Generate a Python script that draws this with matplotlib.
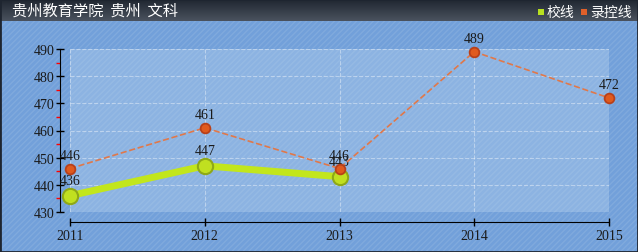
import numpy as np
import matplotlib.pyplot as plt
from matplotlib.patches import Rectangle

plt.rcParams['font.family'] = ['Noto Sans CJK SC', 'DejaVu Sans']

'''
Data
'''
title = '贵州教育学院 贵州 文科'
years = [2011, 2012, 2013, 2014, 2015]
school_years = [2011, 2012, 2013]
school_line = [436, 447, 443]
control_line = [446, 461, 446, 489, 472]
y_ticks = [430, 440, 450, 460, 470, 480, 490]
series_names = ['校线', '录控线']

W, H = 638, 253
fig = plt.figure(figsize=(W / 100, H / 100), dpi=100)
fig.patch.set_facecolor('#72a0da')

# hatched blue background
bg = Rectangle((0, 0), 1, 1, transform=fig.transFigure, facecolor='none',
               edgecolor='#80aadd', hatch='//////', linewidth=0, zorder=-5)
fig.add_artist(bg)

# title bar gradient
tax = fig.add_axes([0, (H - 22) / H, 1, 22 / H])
grad = np.linspace(0, 1, 50).reshape(-1, 1)
tax.imshow(grad, aspect='auto', cmap=plt.matplotlib.colors.LinearSegmentedColormap.from_list(
    'bar', ['#1f2630', '#4a525e']), extent=[0, 1, 0, 1])
tax.axis('off')
fig.text(12 / W, (H - 11) / H, title.replace(' ', '  '), color='white', fontsize=11,
         va='center', ha='left')

# legend
leg_colors = ['#b8e020', '#e0602a']
leg_x = [538, 581]
for name, c, lx in zip(series_names, leg_colors, leg_x):
    fig.add_artist(Rectangle((lx / W, (H - 16) / H), 6 / W, 6 / H, transform=fig.transFigure,
                             facecolor=c, edgecolor='none'))
    fig.text((lx + 9) / W, (H - 12.5) / H, name, color='white', fontsize=10, va='center', ha='left')

# frame border
fig.add_artist(Rectangle((0, 0), 1, 1, transform=fig.transFigure, facecolor='none',
                         edgecolor='#1e2530', linewidth=2, zorder=10))

ax = fig.add_axes([70 / W, (H - 213) / H, 539 / W, 163 / H])
ax.set_facecolor((0.75, 0.85, 0.95, 0.35))
ax.set_xlim(2011, 2015)
ax.set_ylim(430, 490)
for s in ['top', 'right']:
    ax.spines[s].set_visible(False)
ax.spines['left'].set_position(('outward', 7.2))
ax.spines['bottom'].set_position(('outward', 7.2))
ax.spines['left'].set_bounds(430, 490)
ax.set_xticks(years)
ax.set_yticks(y_ticks)
ax.set_yticks([435, 445, 455, 465, 475, 485], minor=True)
ax.tick_params(axis='both', which='major', direction='inout', length=6, width=1,
               colors='black', labelcolor='#1a1a1a')
ax.tick_params(axis='y', which='minor', direction='out', length=3, width=1, color='red')
ax.tick_params(axis='x', pad=2)
ax.tick_params(axis='y', pad=1)
for lab in ax.get_xticklabels() + ax.get_yticklabels():
    lab.set_family('Liberation Serif')
    lab.set_fontsize(10)
ax.grid(True, color='white', alpha=0.4, linestyle='--', linewidth=0.8)

ax.plot(years, control_line, linestyle='--', color='#e0784a', linewidth=1.2,
        marker='o', markersize=7, markerfacecolor='#e05a1e', markeredgecolor='#b8401a',
        markeredgewidth=1.3, zorder=4, clip_on=False)
ax.plot(school_years, school_line, color='#c2e61c', linewidth=5,
        marker='o', markersize=11, markerfacecolor='#c0e020', markeredgecolor='#8ea818',
        markeredgewidth=1.5, zorder=3, clip_on=False)

for x, v in zip(years, control_line):
    ax.annotate(str(v), (x, v), xytext=(0, 5), textcoords='offset points', ha='center',
                va='bottom', fontsize=10, family='Liberation Serif', color='#1a1a1a')
for x, v in zip(school_years, school_line):
    ax.annotate(str(v), (x, v), xytext=(0, 6), textcoords='offset points', ha='center',
                va='bottom', fontsize=10, family='Liberation Serif', color='#1a1a1a')

fig.savefig('out.png', dpi=100, facecolor=fig.get_facecolor())
